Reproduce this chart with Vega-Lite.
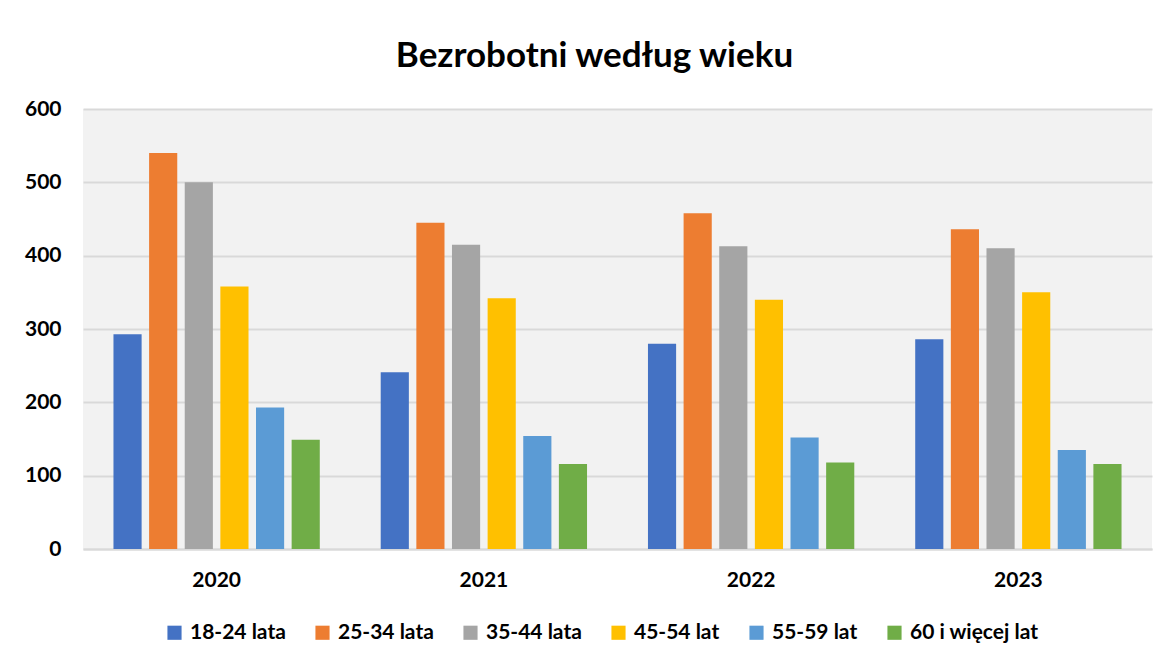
{
  "$schema": "https://vega.github.io/schema/vega-lite/v6.json",
  "width": 1069,
  "height": 440,
  "autosize": "none",
  "padding": {"left": 83, "top": 109, "right": 16, "bottom": 117},
  "background": "white",
  "title": {
    "text": "Bezrobotni według wieku",
    "font": "Lato",
    "fontSize": 35,
    "fontWeight": "bold",
    "color": "#000000",
    "anchor": "middle",
    "offset": 24,
    "dx": -23
  },
  "data": {
    "values": [
      {"rok": "2020", "grupa": "18-24 lata", "liczba": 293},
      {"rok": "2020", "grupa": "25-34 lata", "liczba": 540},
      {"rok": "2020", "grupa": "35-44 lata", "liczba": 500},
      {"rok": "2020", "grupa": "45-54 lat", "liczba": 358},
      {"rok": "2020", "grupa": "55-59 lat", "liczba": 193},
      {"rok": "2020", "grupa": "60 i więcej lat", "liczba": 149},
      {"rok": "2021", "grupa": "18-24 lata", "liczba": 241},
      {"rok": "2021", "grupa": "25-34 lata", "liczba": 445},
      {"rok": "2021", "grupa": "35-44 lata", "liczba": 415},
      {"rok": "2021", "grupa": "45-54 lat", "liczba": 342},
      {"rok": "2021", "grupa": "55-59 lat", "liczba": 154},
      {"rok": "2021", "grupa": "60 i więcej lat", "liczba": 116},
      {"rok": "2022", "grupa": "18-24 lata", "liczba": 280},
      {"rok": "2022", "grupa": "25-34 lata", "liczba": 458},
      {"rok": "2022", "grupa": "35-44 lata", "liczba": 413},
      {"rok": "2022", "grupa": "45-54 lat", "liczba": 340},
      {"rok": "2022", "grupa": "55-59 lat", "liczba": 152},
      {"rok": "2022", "grupa": "60 i więcej lat", "liczba": 118},
      {"rok": "2023", "grupa": "18-24 lata", "liczba": 286},
      {"rok": "2023", "grupa": "25-34 lata", "liczba": 436},
      {"rok": "2023", "grupa": "35-44 lata", "liczba": 410},
      {"rok": "2023", "grupa": "45-54 lat", "liczba": 350},
      {"rok": "2023", "grupa": "55-59 lat", "liczba": 135},
      {"rok": "2023", "grupa": "60 i więcej lat", "liczba": 116}
    ]
  },
  "mark": {"type": "bar"},
  "encoding": {
    "x": {
      "field": "rok",
      "type": "nominal",
      "scale": {"paddingInner": 0, "paddingOuter": 0},
      "axis": {
        "title": null,
        "labelAngle": 0,
        "labelFont": "Lato",
        "labelFontSize": 21,
        "labelFontWeight": "bold",
        "labelColor": "#000000",
        "labelPadding": 20,
        "ticks": false,
        "domainColor": "#d9d9d9",
        "domainWidth": 2
      }
    },
    "xOffset": {
      "field": "grupa",
      "type": "nominal",
      "sort": ["18-24 lata", "25-34 lata", "35-44 lata", "45-54 lat", "55-59 lat", "60 i więcej lat"],
      "scale": {"paddingInner": 0.21, "paddingOuter": 0.855}
    },
    "y": {
      "field": "liczba",
      "type": "quantitative",
      "scale": {"domain": [0, 600], "nice": false},
      "axis": {
        "title": null,
        "values": [0, 100, 200, 300, 400, 500, 600],
        "labelFont": "Lato",
        "labelFontSize": 21,
        "labelFontWeight": "bold",
        "labelColor": "#000000",
        "labelPadding": 22,
        "ticks": false,
        "domain": false,
        "gridColor": "#d9d9d9",
        "gridWidth": 2
      }
    },
    "color": {
      "field": "grupa",
      "type": "nominal",
      "sort": ["18-24 lata", "25-34 lata", "35-44 lata", "45-54 lat", "55-59 lat", "60 i więcej lat"],
      "scale": {
        "domain": ["18-24 lata", "25-34 lata", "35-44 lata", "45-54 lat", "55-59 lat", "60 i więcej lat"],
        "range": ["#4472C4", "#ED7D31", "#A5A5A5", "#FFC000", "#5B9BD5", "#70AD47"]
      },
      "legend": {
        "title": null,
        "orient": "none",
        "legendX": 81,
        "legendY": 513,
        "direction": "horizontal",
        "symbolType": "square",
        "symbolSize": 200,
        "symbolStrokeWidth": 0,
        "symbolOpacity": 1,
        "labelFont": "Lato",
        "labelFontSize": 21,
        "labelFontWeight": "bold",
        "labelColor": "#000000",
        "labelOffset": 5,
        "columnPadding": 26
      }
    }
  },
  "config": {
    "view": {"fill": "#f2f2f2", "stroke": null},
    "legend": {"symbolFillColor": null}
  }
}
